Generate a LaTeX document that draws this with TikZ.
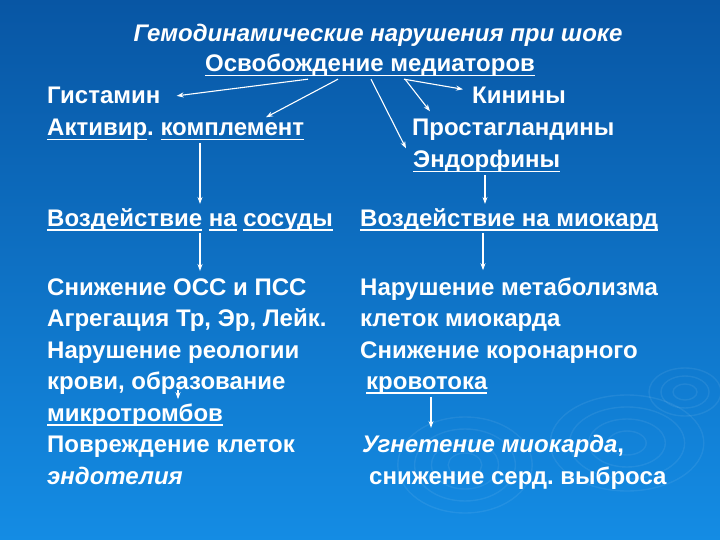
\documentclass[tikz,border=0pt]{standalone}
\usepackage{fontspec}
\setmainfont{Liberation Sans}
\usetikzlibrary{arrows.meta,positioning}
\definecolor{bgtop}{RGB}{8,86,164}
\definecolor{bgbot}{RGB}{20,140,228}
\frenchspacing
% underline at fixed depth
\newcommand{\undr}[1]{\setbox0\hbox{#1}\rlap{\rule[-4.5pt]{\wd0}{1.6pt}}\box0\relax}
\tikzset{
  txt/.style={anchor=base west, text=white, inner sep=2pt, font=\fontsize{24}{29}\selectfont\bfseries},
  arr/.style={draw=white, line width=1.1pt, -{Stealth[length=7pt,width=5pt]}},
  ripple/.style={draw=white, opacity=0.07, line width=1.4pt}
}

\begin{document}
\begin{tikzpicture}[x=1pt,y=-1pt]
\fill[top color=bgtop, bottom color=bgbot] (0,0) rectangle (720,540);
\useasboundingbox (0,0) rectangle (720,540);
% ripples
\foreach \r in {8,16,24} \draw[ripple] (685,392) ellipse ({\r*1.5} and \r);
\foreach \r in {12,24,36,48} \draw[ripple] (627,443) ellipse ({\r*1.6} and \r);
\foreach \r in {12,24,36,48} \draw[ripple] (465,465) ellipse ({\r*1.4} and \r);

% top part
\node[txt, anchor=base, font=\fontsize{24}{29}\selectfont\bfseries\itshape] (title) at (378,42) {Гемодинамические нарушения при шоке};
\node[txt, anchor=base] (mediators) at (370,72) {\undr{Освобождение медиаторов}};
\node[txt] (histamine) at (45,104) {Гистамин};
\node[txt] (kinins) at (470,104) {Кинины};
\node[txt] (complement) at (45,136) {\undr{Активир}. \undr{комплемент}};
\node[txt] (prostagl) at (410,136) {Простагландины};
\node[txt] (endorph) at (411,168) {\undr{Эндорфины}};

\draw[arr] ([xshift=-62pt]mediators.south) -- ([xshift=14pt]histamine.east);
\draw[arr] ([xshift=-32pt]mediators.south) -- ([xshift=221pt]complement.north west);
\draw[arr] ([xshift=1pt]mediators.south) -- ([xshift=-5pt]endorph.north west);
\draw[arr] ([xshift=35pt]mediators.south) -- ([xshift=20pt,yshift=6pt]prostagl.north west);
\draw[arr] ([xshift=34pt]mediators.south) -- ([xshift=-7pt,yshift=-4pt]kinins.north west);

% effects
\node[txt] (vessels) at (45,226) {\undr{Воздействие} \undr{на} \undr{сосуды}};
\node[txt] (myocard) at (358,226) {\undr{Воздействие на миокард}};

\draw[arr] ([xshift=155pt]complement.south west) -- ([xshift=155pt,yshift=2pt]complement.south west |- vessels.north);
\draw[arr] ([xshift=74pt]endorph.south west) -- ([xshift=74pt,yshift=2pt]endorph.south west |- myocard.north);

% left column
\node[txt] (l1) at (45,295) {Снижение ОСС и ПСС};
\node[txt] (l2) at (45,326.5) {Агрегация Тр, Эр, Лейк.};
\node[txt] (l3) at (45,358) {Нарушение реологии};
\node[txt] (l4) at (45,389.5) {крови, образование};
\node[txt] (l5) at (45,421) {\undr{микротромбов}};
\node[txt] (l6) at (45,452.5) {Повреждение клеток};
\node[txt] (l7) at (45,484) {\itshape эндотелия};

\draw[arr] ([xshift=155pt]vessels.south west) -- ([xshift=155pt,yshift=5pt]vessels.south west |- l1.north);
\draw[arr] ([xshift=133pt]l4.base west) -- ([xshift=133pt,yshift=2pt]l5.north west);

% right column
\node[txt] (r1) at (358,295) {Нарушение метаболизма};
\node[txt] (r2) at (358,326.5) {клеток миокарда};
\node[txt] (r3) at (358,358) {Снижение коронарного};
\node[txt] (r4) at (364,389.5) {\undr{кровотока}};
\node[txt] (r5) at (360,452.5) {\textit{Угнетение миокарда},};
\node[txt] (r6) at (367,484) {снижение серд. выброса};

\draw[arr] ([xshift=125pt]myocard.south west) -- ([xshift=125pt,yshift=5pt]myocard.south west |- r1.north);
\draw[arr] ([xshift=67pt]r4.south west) -- ([xshift=67pt,yshift=5pt]r4.south west |- r5.north);
\end{tikzpicture}
\end{document}
